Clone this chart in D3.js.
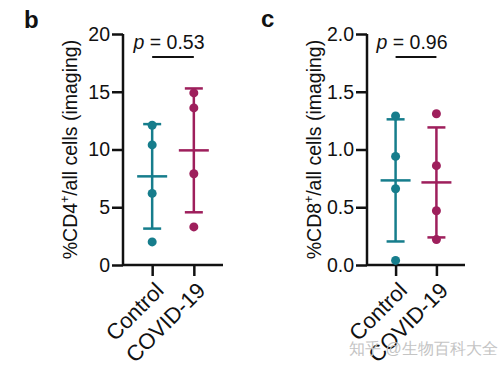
<!DOCTYPE html>
<html>
<head>
<meta charset="utf-8">
<script src="https://cdn.jsdelivr.net/npm/d3@7"></script>
<style>
  body { margin: 0; background: #fff; }
  text { font-family: "Liberation Sans", Arial, sans-serif; }
</style>
</head>
<body>
<div id="chart"></div>
<script>
// data
var groups = ["Control", "COVID-19"];
var cd4Control = [12.1, 10.4, 6.2, 2.0];
var cd4Covid = [14.9, 13.6, 7.9, 3.3];
var cd8Control = [1.29, 0.94, 0.66, 0.04];
var cd8Covid = [1.31, 0.86, 0.47, 0.22];
var cd4Ticks = [0, 5, 10, 15, 20];
var cd8Ticks = [0, 0.5, 1.0, 1.5, 2.0];

var colors = ["#167d8c", "#9e1f5c"];

var svg = d3.select("#chart").append("svg")
    .attr("width", 503)
    .attr("height", 369);

panel({
    left: 123, right: 223, top: 34, bottom: 265,
    max: 20, ticks: cd4Ticks, fmt: d3.format("d"),
    series: [cd4Control, cd4Covid],
    label: "b", labelX: 24, labelY: 28,
    title: "CD4", pval: "0.53", titleX: 77
});

panel({
    left: 367, right: 465, top: 34, bottom: 265,
    max: 2, ticks: cd8Ticks, fmt: d3.format(".1f"),
    series: [cd8Control, cd8Covid],
    label: "c", labelX: 261, labelY: 27,
    title: "CD8", pval: "0.96", titleX: 321
});

function panel(o) {
    var g = svg.append("g");

    var y = d3.scaleLinear().domain([0, o.max]).range([o.bottom, o.top]);
    var x = d3.scalePoint().domain(groups).range([o.left, o.right]).padding(0.7);

    var yAxis = g.append("g")
        .attr("transform", "translate(" + o.left + ",0)")
        .call(d3.axisLeft(y).tickValues(o.ticks).tickFormat(o.fmt).tickSize(11).tickPadding(2));
    var xAxis = g.append("g")
        .attr("transform", "translate(0," + o.bottom + ")")
        .call(d3.axisBottom(x).tickSize(11).tickFormat(""));

    [yAxis, xAxis].forEach(function(a) {
        a.select(".domain").attr("stroke", "#111").attr("stroke-width", 2.5);
        a.selectAll(".tick line").attr("stroke", "#111").attr("stroke-width", 2.5);
    });
    // keep the axes as plain lines, no outer ticks
    yAxis.select(".domain").attr("d", "M0," + o.bottom + "V" + o.top);
    xAxis.select(".domain").attr("d", "M" + o.left + ",0H" + o.right);

    yAxis.selectAll(".tick text")
        .attr("font-size", 19.5)
        .attr("fill", "#111")
        .attr("font-family", "Liberation Sans, Arial, sans-serif");

    // rotated category labels
    g.selectAll(".cat")
        .data(groups)
        .enter().append("text")
        .attr("class", "cat")
        .attr("transform", function(d) { return "translate(" + (x(d) + 2) + "," + (o.bottom + 16) + ") rotate(-45)"; })
        .attr("text-anchor", "end")
        .attr("dy", "0.7em")
        .attr("font-size", 22)
        .attr("fill", "#111")
        .text(function(d) { return d; });

    // y axis title
    var t = g.append("text")
        .attr("transform", "translate(" + o.titleX + "," + (o.top + o.bottom) / 2 + ") rotate(-90)")
        .attr("text-anchor", "middle")
        .attr("font-size", 19.5)
        .attr("fill", "#111");
    t.append("tspan").text("%" + o.title);
    t.append("tspan").attr("font-size", 12).attr("dy", -8).text("+");
    t.append("tspan").attr("dy", 8).text("/all cells (imaging)");

    // panel letter
    g.append("text")
        .attr("x", o.labelX)
        .attr("y", o.labelY)
        .attr("font-size", 24)
        .attr("font-weight", "bold")
        .attr("fill", "#111")
        .text(o.label);

    // mean, SD bars and points
    o.series.forEach(function(vals, i) {
        var cx = x(groups[i]);
        var m = d3.mean(vals), sd = d3.deviation(vals);
        var c = colors[i];
        g.append("line")
            .attr("x1", cx).attr("x2", cx)
            .attr("y1", y(m - sd)).attr("y2", y(m + sd))
            .attr("stroke", c).attr("stroke-width", 2.5);
        [m - sd, m + sd].forEach(function(v) {
            g.append("line")
                .attr("x1", cx - 9).attr("x2", cx + 9)
                .attr("y1", y(v)).attr("y2", y(v))
                .attr("stroke", c).attr("stroke-width", 2.5);
        });
        g.append("line")
            .attr("x1", cx - 15).attr("x2", cx + 15)
            .attr("y1", y(m)).attr("y2", y(m))
            .attr("stroke", c).attr("stroke-width", 2.5);
        g.selectAll(null)
            .data(vals)
            .enter().append("circle")
            .attr("cx", cx)
            .attr("cy", function(d) { return y(d); })
            .attr("r", 4.5)
            .attr("fill", c);
    });

    // p value bracket
    var x0 = x(groups[0]), x1 = x(groups[1]);
    g.append("line")
        .attr("x1", x0).attr("x2", x1)
        .attr("y1", 57).attr("y2", 57)
        .attr("stroke", "#111").attr("stroke-width", 2);
    var p = g.append("text")
        .attr("x", (x0 + x1) / 2 - 4)
        .attr("y", 49)
        .attr("text-anchor", "middle")
        .attr("font-size", 19.5)
        .attr("fill", "#111");
    p.append("tspan").attr("font-style", "italic").text("p");
    p.append("tspan").text(" = " + o.pval);
}

// watermark
svg.append("text")
    .attr("x", 349)
    .attr("y", 354)
    .attr("font-size", 16)
    .attr("font-family", "Noto Sans CJK SC, sans-serif")
    .attr("fill", "#c4c4c4")
    .text("知乎 @生物百科大全");
</script>
</body>
</html>
